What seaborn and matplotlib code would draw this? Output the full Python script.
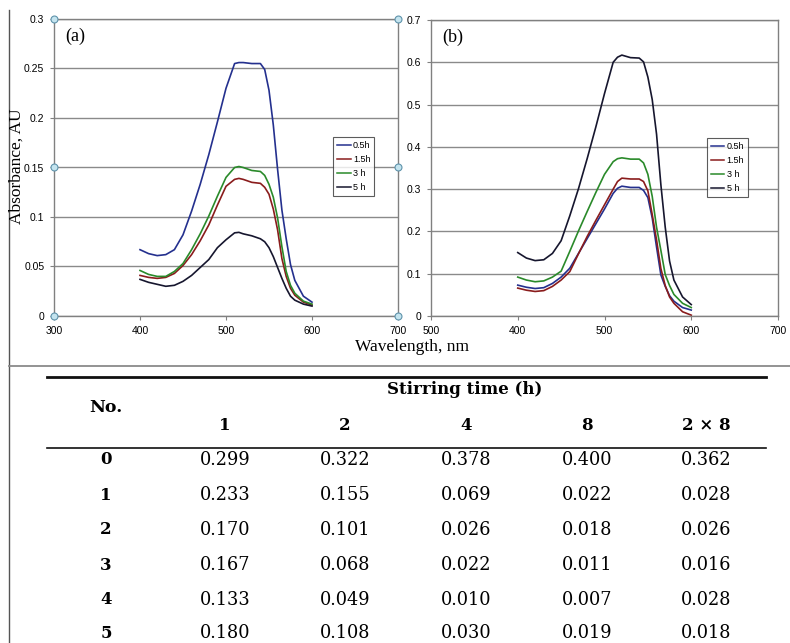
import matplotlib
matplotlib.use("Agg")
import matplotlib.pyplot as plt
import numpy as np
import pandas as pd
import seaborn as sns

# ---------------- data ----------------
wavelength = [400, 410, 420, 430, 440, 450, 460, 470, 480, 490, 500, 510, 515,
              520, 530, 540, 545, 550, 555, 560, 565, 570, 575, 580, 590, 600]
series_labels = ["0.5h", "1.5h", "3 h", "5 h"]

# panel (a)
a_05 = [.067, .063, .061, .062, .067, .082, .106, .133, .163, .196, .230, .255, .256,
        .256, .255, .255, .249, .228, .193, .148, .107, .078, .052, .036, .020, .014]
a_15 = [.041, .039, .038, .039, .043, .051, .062, .076, .092, .112, .131, .138, .139,
        .138, .135, .134, .130, .123, .108, .087, .058, .040, .028, .021, .014, .011]
a_3 = [.046, .042, .040, .040, .045, .053, .067, .083, .101, .121, .140, .150, .151,
       .150, .147, .146, .142, .133, .120, .099, .070, .045, .031, .023, .015, .012]
a_5 = [.037, .034, .032, .030, .031, .035, .041, .049, .057, .069, .077, .084, .0845,
       .083, .081, .078, .075, .069, .060, .049, .038, .028, .020, .016, .012, .010]

# panel (b)
b_05 = [.073, .068, .065, .067, .077, .092, .113, .148, .183, .218, .253, .290, .302,
        .307, .304, .304, .297, .280, .232, .163, .097, .070, .048, .035, .020, .014]
b_15 = [.066, .061, .058, .060, .070, .085, .105, .147, .188, .226, .263, .300, .318,
        .326, .324, .324, .318, .296, .240, .180, .112, .072, .045, .030, .010, .002]
b_3 = [.092, .085, .081, .083, .092, .106, .153, .201, .247, .292, .335, .365, .372,
       .374, .371, .371, .362, .335, .283, .210, .155, .098, .072, .051, .030, .020]
b_5 = [.150, .137, .131, .133, .148, .178, .237, .301, .372, .447, .526, .600, .612,
       .617, .611, .610, .601, .565, .512, .430, .310, .210, .130, .085, .045, .027]

a_xticks = [300, 400, 500, 600, 700]
a_xticklabels = ["300", "400", "500", "600", "700"]
b_xticklabels = ["500", "400", "500", "600", "700"]
a_yticks = [0, 0.05, 0.1, 0.15, 0.2, 0.25, 0.3]
a_yticklabels = ["0", "0.05", "0.1", "0.15", "0.2", "0.25", "0.3"]
b_yticks = [0, 0.1, 0.2, 0.3, 0.4, 0.5, 0.6, 0.7]
b_yticklabels = ["0", "0.1", "0.2", "0.3", "0.4", "0.5", "0.6", "0.7"]

# table
table_rows = ["0", "1", "2", "3", "4", "5"]
table_cols = ["1", "2", "4", "8", "2 × 8"]
col_1 = ["0.299", "0.233", "0.170", "0.167", "0.133", "0.180"]
col_2 = ["0.322", "0.155", "0.101", "0.068", "0.049", "0.108"]
col_4 = ["0.378", "0.069", "0.026", "0.022", "0.010", "0.030"]
col_8 = ["0.400", "0.022", "0.018", "0.011", "0.007", "0.019"]
col_2x8 = ["0.362", "0.028", "0.026", "0.016", "0.028", "0.018"]

palette = {"0.5h": "#24308e", "1.5h": "#8a1c1c", "3 h": "#2a8a2a", "5 h": "#16162e"}

W, H = 790, 643
fig = plt.figure(figsize=(W / 100, H / 100), dpi=100)
fig.patch.set_facecolor("white")

SANS = ["Liberation Sans", "DejaVu Sans"]
SERIF = ["Liberation Serif", "DejaVu Serif"]


def frame(px_left, px_top, px_right, px_bottom):
    return [px_left / W, 1 - px_bottom / H, (px_right - px_left) / W, (px_bottom - px_top) / H]


def make_df(vals):
    rows = []
    for lab, v in zip(series_labels, vals):
        for x, y in zip(wavelength, v):
            rows.append({"wl": x, "abs": y, "t": lab})
    return pd.DataFrame(rows)


def style_axes(ax, yticks, ylabels, xlabels, ymax, anchor):
    ax.set_xlim(300, 700)
    ax.set_ylim(0, ymax)
    ax.set_xticks(a_xticks)
    ax.set_xticklabels(xlabels, fontfamily=SANS, fontsize=7.5)
    ax.set_yticks(yticks)
    ax.set_yticklabels(ylabels, fontfamily=SANS, fontsize=7.5)
    ax.tick_params(length=3, width=0.8, color="#808080", pad=4)
    ax.grid(axis="y", color="#8a8a8a", lw=1.0)
    ax.set_axisbelow(True)
    for s in ax.spines.values():
        s.set_color("#808080")
        s.set_linewidth(1.0)
    ax.set_xlabel("")
    ax.set_ylabel("")
    sns.move_legend(ax, loc="upper left", bbox_to_anchor=anchor,
                    title=None, frameon=True, fancybox=False,
                    handlelength=1.5, handletextpad=0.25, labelspacing=0.55,
                    borderpad=0.45, borderaxespad=0, edgecolor="#333333",
                    prop={"family": SANS, "size": 6.5, "weight": "medium"})
    leg = ax.get_legend()
    leg.get_frame().set_linewidth(0.8)
    for ln in leg.get_lines():
        ln.set_linewidth(1.1)


# ---------------- panel (a) ----------------
ax_a = fig.add_axes(frame(54, 19, 398, 316))
sns.lineplot(data=make_df([a_05, a_15, a_3, a_5]), x="wl", y="abs", hue="t",
             hue_order=series_labels, palette=palette, lw=1.2, ax=ax_a,
             estimator=None, sort=False)
style_axes(ax_a, a_yticks, a_yticklabels, a_xticklabels, 0.3, (0.811, 0.603))
ax_a.text(0.032, 0.94, "(a)", transform=ax_a.transAxes, fontfamily=SERIF,
          fontsize=13, va="center", ha="left")
ax_a.plot([0, 1, 0, 1, 0, 1], [1, 1, 0.5, 0.5, 0, 0], "o", transform=ax_a.transAxes,
          clip_on=False, ms=5, mfc="#c4e4ef", mec="#5f93ab", mew=0.8, zorder=10)

# ---------------- panel (b) ----------------
ax_b = fig.add_axes(frame(431, 20, 778, 316))
sns.lineplot(data=make_df([b_05, b_15, b_3, b_5]), x="wl", y="abs", hue="t",
             hue_order=series_labels, palette=palette, lw=1.2, ax=ax_b,
             estimator=None, sort=False)
style_axes(ax_b, b_yticks, b_yticklabels, b_xticklabels, 0.7, (0.795, 0.60))
ax_b.text(0.032, 0.94, "(b)", transform=ax_b.transAxes, fontfamily=SERIF,
          fontsize=13, va="center", ha="left")

# ---------------- shared labels ----------------
fig.text(17 / W, 1 - 166 / H, "Absorbance, AU", rotation=90, ha="center", va="center",
         fontfamily=SERIF, fontsize=12.5)
fig.text(412 / W, 1 - 347 / H, "Wavelength, nm", ha="center", va="center",
         fontfamily=SERIF, fontsize=12.5)

# ---------------- table & frame ----------------
ax_t = fig.add_axes([0, 0, 1, 1], zorder=-1)
ax_t.set_xlim(0, W)
ax_t.set_ylim(H, 0)
ax_t.axis("off")
ax_t.plot([9, 9], [10, H], color="#555555", lw=1.0)
ax_t.plot([9, W], [366, 366], color="#8a8a8a", lw=1.3)
ax_t.plot([47, 766], [377, 377], color="#111111", lw=2.0)
ax_t.plot([47, 766], [448, 448], color="#111111", lw=1.2)

TSERIF = ["DejaVu Serif"]
ax_t.text(465, 390, "Stirring time (h)", ha="center", va="center", fontfamily=TSERIF,
          fontweight="bold", fontsize=12)
ax_t.text(106, 408, "No.", ha="center", va="center", fontfamily=TSERIF,
          fontweight="bold", fontsize=12.5)
col_x = [225, 345, 466, 587, 706]
for cx, lab in zip(col_x, table_cols):
    ax_t.text(cx, 426, lab, ha="center", va="center", fontfamily=TSERIF,
              fontweight="bold", fontsize=12)
row_y = [460, 495, 530, 565, 600, 633]
columns = [col_1, col_2, col_4, col_8, col_2x8]
for i, (ry, rlab) in enumerate(zip(row_y, table_rows)):
    ax_t.text(106, ry, rlab, ha="center", va="center", fontfamily=TSERIF,
              fontweight="bold", fontsize=12)
    for cx, col in zip(col_x, columns):
        ax_t.text(cx, ry, col[i], ha="center", va="center", fontfamily=TSERIF,
                  fontsize=12.8)

fig.savefig("out.png", dpi=100, facecolor="white")
